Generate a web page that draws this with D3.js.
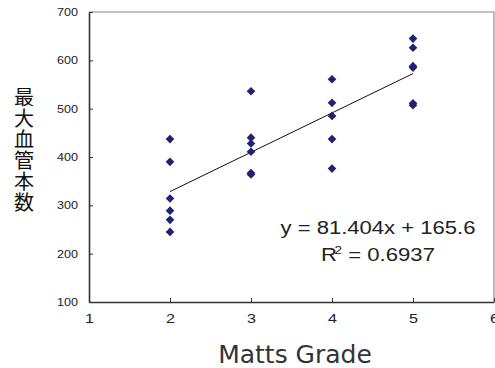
<!DOCTYPE html>
<html lang="ja">
<head>
    <meta charset="UTF-8">
    <title>Matts Grade vs 最大血管本数</title>
    <script src="https://d3js.org/d3.v7.min.js"></script>
    <style>
        body { margin: 0; background: #fff; }
        svg { display: block; }
        .tick-label { font-family: "Liberation Sans", Arial, sans-serif; fill: #222; }
    </style>
</head>
<body>
    <div id="chart"></div>
    <script>
        // scatter data: Matts grade and vessel counts
        const grades = [2, 2, 2, 2, 2, 2, 3, 3, 3, 3, 3, 3, 4, 4, 4, 4, 4, 5, 5, 5, 5, 5, 5];
        const vessels = [437, 390, 314, 289, 270, 245, 536, 440, 428, 411, 367, 364, 561, 512, 485, 437, 376, 645, 626, 588, 585, 511, 507];

        // fitted line end points (y = 81.404x + 165.6 at x = 2 and x = 5)
        const trendX = [2, 5];
        const trendY = [328.4, 572.6];

        const xTicks = [1, 2, 3, 4, 5, 6];
        const yTicks = [100, 200, 300, 400, 500, 600, 700];

        const eqText = "y = 81.404x + 165.6";
        const r2Value = "0.6937";
        const yTitle = "最大血管本数";
        const xTitle = "Matts Grade";

        const width = 495, height = 368;
        const margin = { top: 12, right: 1, bottom: 66, left: 89 };

        const svg = d3.select("#chart").append("svg")
            .attr("width", width)
            .attr("height", height);

        const x = d3.scaleLinear().domain([1, 6]).range([margin.left, width - margin.right]);
        const y = d3.scaleLinear().domain([100, 700]).range([height - margin.bottom, margin.top]);

        // top + right frame (light grey)
        svg.append("path")
            .attr("d", `M${x(1)},${y(700)}H${x(6)}V${y(100)}`)
            .attr("fill", "none")
            .attr("stroke", "#8a8a8a")
            .attr("stroke-width", 1.2);

        // axes, ticks pointing inward
        const xAxis = svg.append("g")
            .attr("transform", `translate(0,${y(100)})`)
            .call(d3.axisBottom(x).tickValues(xTicks).tickFormat(d3.format("d"))
                .tickSizeInner(-4).tickSizeOuter(0).tickPadding(12));
        const yAxis = svg.append("g")
            .attr("transform", `translate(${x(1)},0)`)
            .call(d3.axisLeft(y).tickValues(yTicks).tickFormat(d3.format("d"))
                .tickSizeInner(-4).tickSizeOuter(0).tickPadding(11));

        [xAxis, yAxis].forEach(g => {
            g.select(".domain").attr("stroke", "#333").attr("stroke-width", 1.6);
            g.selectAll(".tick line").attr("stroke", "#333");
            g.selectAll(".tick text").attr("class", "tick-label").attr("fill", "#222")
                .attr("lengthAdjust", "spacingAndGlyphs");
        });
        xAxis.selectAll(".tick text").style("font-size", "12.5px").attr("textLength", 9);
        yAxis.selectAll(".tick text").style("font-size", "10.5px").attr("textLength", 21);

        // trend line
        svg.append("line")
            .attr("x1", x(trendX[0])).attr("y1", y(trendY[0]))
            .attr("x2", x(trendX[1])).attr("y2", y(trendY[1]))
            .attr("stroke", "#111")
            .attr("stroke-width", 1);

        // diamond markers
        const diamond = "M0,-4.3L4.3,0L0,4.3L-4.3,0Z";
        svg.append("g").selectAll("path")
            .data(grades.map((g, i) => [g, vessels[i]]))
            .join("path")
            .attr("d", diamond)
            .attr("transform", d => `translate(${x(d[0])},${y(d[1])})`)
            .attr("fill", "#1f2272");

        // equation + R²
        svg.append("text")
            .attr("x", 378).attr("y", 234)
            .attr("text-anchor", "middle")
            .attr("font-family", "Liberation Sans, Arial, sans-serif")
            .attr("font-size", 18)
            .attr("fill", "#222")
            .attr("textLength", 195)
            .attr("lengthAdjust", "spacingAndGlyphs")
            .text(eqText);

        const r2 = svg.append("text")
            .attr("x", 378).attr("y", 261)
            .attr("text-anchor", "middle")
            .attr("font-family", "Liberation Sans, Arial, sans-serif")
            .attr("font-size", 18)
            .attr("fill", "#222")
            .attr("textLength", 114)
            .attr("lengthAdjust", "spacingAndGlyphs");
        r2.append("tspan").text("R");
        r2.append("tspan").attr("font-size", 11).attr("dy", -7).attr("dx", -2).text("2");
        r2.append("tspan").attr("dy", 7).text(" = " + r2Value);

        // y title, written top to bottom as one text
        svg.append("text")
            .attr("x", 24).attr("y", 87)
            .style("writing-mode", "vertical-rl")
            .style("letter-spacing", "1px")
            .attr("font-family", "Noto Sans CJK JP, Noto Sans CJK SC, sans-serif")
            .attr("font-size", 20)
            .attr("fill", "#111")
            .text(yTitle);

        // x title
        svg.append("text")
            .attr("x", 295).attr("y", 363)
            .attr("text-anchor", "middle")
            .attr("font-family", "DejaVu Sans, sans-serif")
            .attr("font-size", 25)
            .attr("fill", "#333")
            .text(xTitle);
    </script>
</body>
</html>
